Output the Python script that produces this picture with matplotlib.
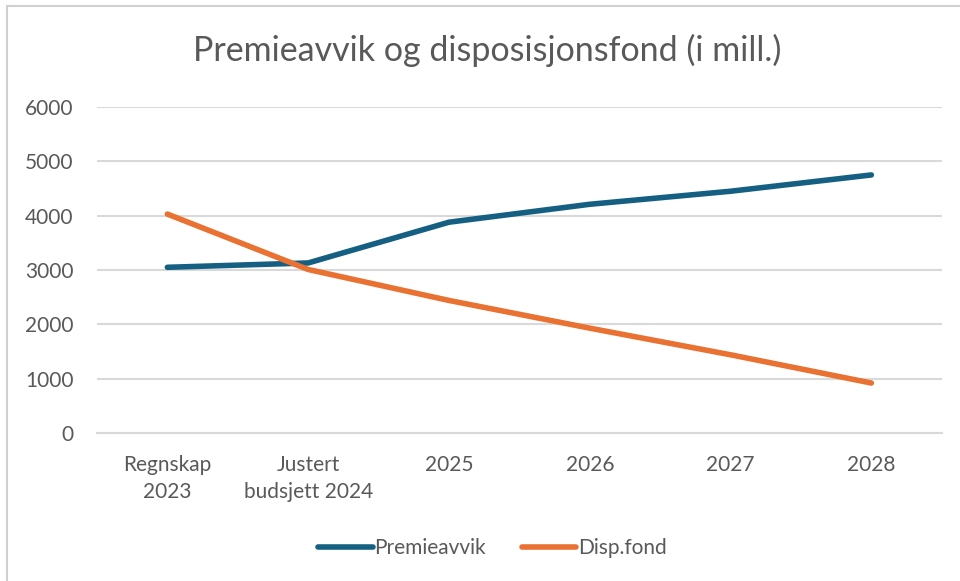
import matplotlib.pyplot as plt
from matplotlib.patches import Rectangle

categories = ['Regnskap\n2023', 'Justert\nbudsjett 2024', '2025', '2026', '2027', '2028']
premieavvik = [3050, 3130, 3880, 4210, 4450, 4750]
disp_fond = [4030, 3010, 2440, 1930, 1440, 920]
y_ticks = [0, 1000, 2000, 3000, 4000, 5000, 6000]

BLUE = '#156082'
ORANGE = '#E97132'
TEXT = '#595959'
GRID = '#D9D9D9'

plt.rcParams['font.family'] = ['Lato', 'DejaVu Sans']

fig = plt.figure(figsize=(9.6, 5.81), dpi=100)
ax = fig.add_axes([0.101, 0.2547, 0.880, 0.5611])

x = list(range(len(categories)))
ax.plot(x, premieavvik, color=BLUE, linewidth=4, solid_capstyle='round',
        solid_joinstyle='round', label='Premieavvik', zorder=3)
ax.plot(x, disp_fond, color=ORANGE, linewidth=4, solid_capstyle='round',
        solid_joinstyle='round', label='Disp.fond', zorder=3)

ax.set_xlim(-0.5, len(categories) - 0.5)
ax.set_ylim(0, 6000)
ax.set_yticks(y_ticks)
ax.set_yticklabels([str(v) for v in y_ticks])
ax.set_xticks(x)
ax.set_xticklabels(categories, linespacing=1.4)

ax.grid(axis='y', color=GRID, linewidth=1.5)
ax.set_axisbelow(True)
for side in ['top', 'right', 'left']:
    ax.spines[side].set_visible(False)
ax.spines['bottom'].set_color(GRID)
ax.spines['bottom'].set_linewidth(1.5)
ax.tick_params(axis='both', length=0, labelsize=15, labelcolor=TEXT)
ax.tick_params(axis='y', pad=17)
ax.tick_params(axis='x', pad=16)

fig.text(0.508, 0.913, 'Premieavvik og disposisjonsfond (i mill.)', ha='center',
         va='center', fontsize=24.5, color=TEXT)

leg = fig.legend(loc='center', bbox_to_anchor=(0.513, 0.057), ncol=2, frameon=False,
                 fontsize=15, handlelength=2.6, handletextpad=0.1, columnspacing=1.7)
for t in leg.get_texts():
    t.set_color(TEXT)

# chart frame
fig.patches.append(Rectangle((0.007, -0.05), 1.2, 1.04, transform=fig.transFigure,
                             fill=False, edgecolor='#D0D0D0', linewidth=1.5))

fig.savefig('out.png', dpi=100)
